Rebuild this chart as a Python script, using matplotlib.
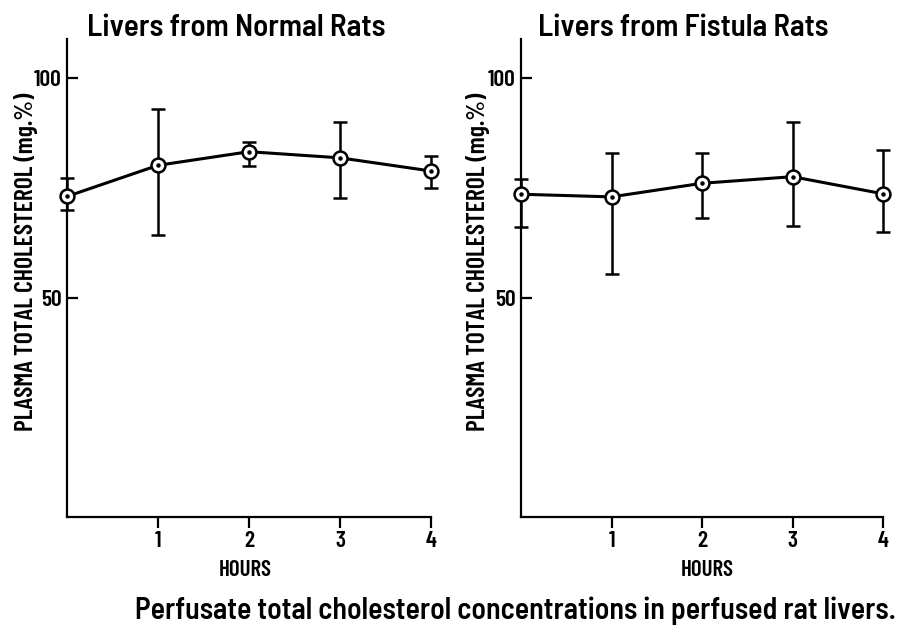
import matplotlib
matplotlib.use('Agg')
import matplotlib.pyplot as plt
from matplotlib import font_manager

# Plasma total cholesterol (mg.%) of perfused livers, mean with range
hours = [0, 1, 2, 3, 4]

normal_mean = [73.1, 80.2, 83.3, 81.9, 78.9]
normal_low = [70.1, 64.2, 80.1, 72.7, 75.1]
normal_high = [77.4, 93.1, 85.5, 90.1, 82.4]

fistula_mean = [73.6, 73.0, 76.1, 77.6, 73.7]
fistula_low = [66.1, 55.4, 68.2, 66.4, 65.1]
fistula_high = [77.0, 83.0, 83.0, 90.1, 83.7]

titles = ['Livers from Normal Rats', 'Livers from Fistula Rats']
ylabel = 'PLASMA TOTAL CHOLESTEROL (mg.%)'
xticks = [1, 2, 3, 4]
yticks = [50, 100]
caption = 'Perfusate total cholesterol concentrations in perfused rat livers.'

# pick narrow sans faces, fall back to DejaVu
names = {f.name for f in font_manager.fontManager.ttflist}


def pick(cands):
    for c in cands:
        if c in names:
            return c
    return 'DejaVu Sans'


FONT = pick(['Barlow Semi Condensed', 'Roboto Condensed', 'Liberation Sans Narrow'])
NARROW = pick(['Barlow Condensed', 'Roboto Condensed', 'Liberation Sans Narrow'])
plt.rcParams['font.family'] = [FONT, 'DejaVu Sans']
plt.rcParams['font.weight'] = 'semibold'
small = {'family': [NARROW, 'DejaVu Sans'], 'weight': 'semibold'}

W, H = 907, 631
fig = plt.figure(figsize=(W / 100, H / 100), dpi=100)
renderer = fig.canvas.get_renderer()


def fitted_text(x, y, s, length, rotation=0, **kw):
    # place text at pixel coords and scale it to the given length in pixels
    t = fig.text(x / W, 1 - y / H, s, fontsize=20, rotation=rotation,
                 ha='center', va='center', **kw)
    bb = t.get_window_extent(renderer)
    size = bb.height if rotation == 90 else bb.width
    t.set_fontsize(20 * length / size)
    return t


panels = [
    (normal_mean, normal_low, normal_high, [67 / W, 114 / H, 364 / W, 478 / H]),
    (fistula_mean, fistula_low, fistula_high, [521 / W, 114 / H, 362 / W, 478 / H]),
]

for mean, low, high, rect in panels:
    ax = fig.add_axes(rect)
    err = [[m - l for m, l in zip(mean, low)], [h - m for m, h in zip(mean, high)]]
    ax.errorbar(hours, mean, yerr=err, color='black', lw=2.2, elinewidth=1.8,
                capsize=5, capthick=1.8, marker='o', ms=10, mfc='white',
                mec='black', mew=1.8, clip_on=False, zorder=3)
    ax.plot(hours, mean, ls='none', marker='o', ms=2.2, color='black',
            clip_on=False, zorder=4)
    ax.set_xlim(0, 4)
    ax.set_ylim(0, 109)
    ax.set_xticks(xticks)
    ax.set_xticklabels([str(t) for t in xticks], fontsize=17, **small)
    ax.set_yticks(yticks)
    ax.set_yticklabels([str(t) for t in yticks], fontsize=17, **small)
    ax.tick_params(axis='x', direction='out', length=8, width=1.6, pad=2)
    ax.tick_params(axis='y', direction='in', length=8, width=1.6, pad=4)
    for side in ['top', 'right']:
        ax.spines[side].set_visible(False)
    for side in ['left', 'bottom']:
        ax.spines[side].set_linewidth(1.6)

fitted_text(236, 28, titles[0], 298)
fitted_text(683, 28, titles[1], 289)
fitted_text(26, 262, ylabel, 337, rotation=90, **small)
fitted_text(478, 262, ylabel, 337, rotation=90, **small)
fitted_text(245, 570, 'HOURS', 53, **small)
fitted_text(707, 570, 'HOURS', 53, **small)
fitted_text(515, 611, caption, 759)

fig.savefig('out.png', dpi=100, facecolor='white')
